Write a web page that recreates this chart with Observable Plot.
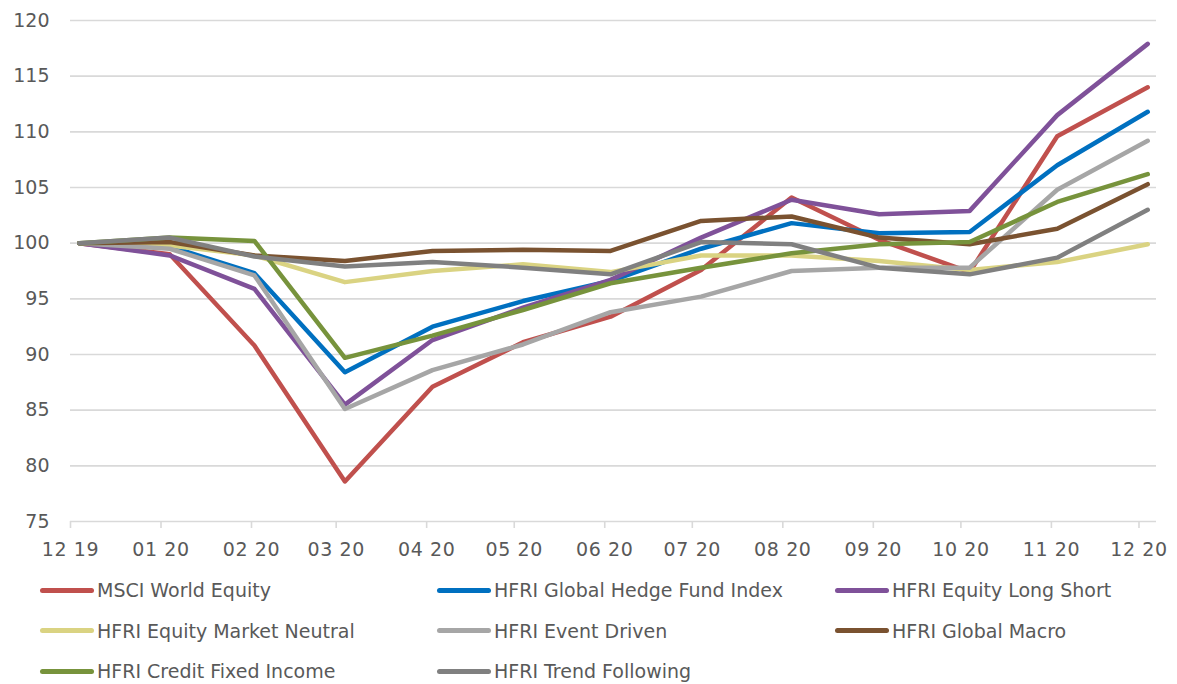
<!DOCTYPE html>
<html>
<head>
<meta charset="utf-8">
<script src="https://cdn.jsdelivr.net/npm/d3@7"></script>
<script src="https://cdn.jsdelivr.net/npm/@observablehq/plot@0.6"></script>
<style>
  html, body { margin: 0; padding: 0; background: #fff; }
  body { width: 1177px; height: 684px; overflow: hidden; font-family: "DejaVu Sans", Verdana, sans-serif; }
  #legend { position: relative; display: grid; grid-template-columns: 397px 398px 342px; padding-left: 40px; margin-top: 5px; }
  .item { height: 40.5px; display: flex; align-items: center; font-size: 19px; color: #595959; white-space: nowrap; }
  .sw { width: 54px; height: 5px; border-radius: 3px; margin-right: 3px; flex: none; }
</style>
</head>
<body>
<div id="chart"></div>
<div id="legend"></div>
<script>
const dates = ["2019-12-31","2020-01-31","2020-02-29","2020-03-31","2020-04-30","2020-05-31","2020-06-30","2020-07-31","2020-08-31","2020-09-30","2020-10-31","2020-11-30","2020-12-31"];

const seriesNames = [
  "MSCI World Equity",
  "HFRI Global Hedge Fund Index",
  "HFRI Equity Long Short",
  "HFRI Equity Market Neutral",
  "HFRI Event Driven",
  "HFRI Global Macro",
  "HFRI Credit Fixed Income",
  "HFRI Trend Following"
];
const seriesColors = ["#C0504D","#0070C0","#7F5199","#DAD382","#A6A6A6","#7A5230","#77933C","#808080"];

const msciWorld      = [100, 99.0, 90.8, 78.6, 87.1, 91.1, 93.4, 97.6, 104.1, 100.3, 97.4, 109.6, 114.0];
const globalHedge    = [100, 99.7, 97.3, 88.4, 92.5, 94.8, 96.6, 99.5, 101.8, 100.9, 101.0, 107.0, 111.8];
const equityLS       = [100, 98.9, 95.9, 85.5, 91.3, 94.2, 96.7, 100.5, 103.9, 102.6, 102.9, 111.5, 117.9];
const equityMN       = [100, 99.8, 98.9, 96.5, 97.5, 98.1, 97.4, 98.9, 98.9, 98.4, 97.6, 98.3, 99.9];
const eventDriven    = [100, 99.5, 97.1, 85.1, 88.6, 90.9, 93.8, 95.2, 97.5, 97.8, 97.8, 104.8, 109.2];
const globalMacro    = [100, 100.1, 98.9, 98.4, 99.3, 99.4, 99.3, 102.0, 102.4, 100.5, 99.9, 101.3, 105.3];
const creditFI       = [100, 100.5, 100.2, 89.7, 91.7, 94.0, 96.4, 97.8, 99.1, 99.9, 100.1, 103.7, 106.2];
const trendFollowing = [100, 100.5, 98.8, 97.9, 98.3, 97.8, 97.2, 100.1, 99.9, 97.8, 97.2, 98.7, 103.0];

const seriesValues = [msciWorld, globalHedge, equityLS, equityMN, eventDriven, globalMacro, creditFI, trendFollowing];

const tickDates = ["2019-12-28","2020-01-28","2020-02-28","2020-03-28","2020-04-28","2020-05-28","2020-06-28","2020-07-28","2020-08-28","2020-09-28","2020-10-28","2020-11-28","2020-12-28"];
const tickLabels = ["12 19","01 20","02 20","03 20","04 20","05 20","06 20","07 20","08 20","09 20","10 20","11 20","12 20"];
const yTicks = [75, 80, 85, 90, 95, 100, 105, 110, 115, 120];
const xDomain = ["2019-12-28", "2021-01-03"];

const rows = [];
seriesNames.forEach((name, s) => {
  seriesValues[s].forEach((v, i) => rows.push({series: name, date: new Date(dates[i]), value: v}));
});

const tickDateObjs = tickDates.map(d => new Date(d));
const labelByTime = new Map(tickDateObjs.map((d, i) => [+d, tickLabels[i]]));

const chart = Plot.plot({
  width: 1177,
  height: 565,
  marginLeft: 70,
  marginRight: 21,
  marginTop: 20,
  marginBottom: 44,
  style: {fontFamily: "DejaVu Sans, Verdana, sans-serif", fontSize: "19px", color: "#595959", background: "white"},
  x: {type: "utc", domain: xDomain.map(d => new Date(d))},
  y: {domain: [75, 120]},
  color: {domain: seriesNames, range: seriesColors},
  marks: [
    Plot.gridY(yTicks, {stroke: "#d9d9d9", strokeWidth: 1.6, strokeOpacity: 1}),
    Plot.axisY(yTicks, {tickSize: 0, tickPadding: 21, fontSize: 19, fill: "#595959", label: null}),
    Plot.axisX(tickDateObjs, {tickSize: 7, tickPadding: 14, stroke: "#d9d9d9", strokeWidth: 1.6, strokeOpacity: 1, fontSize: 19, fill: "#595959", label: null, tickFormat: d => labelByTime.get(+d)}),
    Plot.line(rows, {x: "date", y: "value", z: "series", stroke: "series", strokeWidth: 4.5, strokeLinejoin: "round", strokeLinecap: "round"})
  ]
});
chart.querySelectorAll("g[aria-label='x-axis tick label'] text").forEach(t => t.setAttribute("letter-spacing", "0.6"));
document.getElementById("chart").appendChild(chart);

const legend = document.getElementById("legend");
seriesNames.forEach((name, i) => {
  const item = document.createElement("div");
  item.className = "item";
  const sw = document.createElement("span");
  sw.className = "sw";
  sw.style.background = seriesColors[i];
  const tx = document.createElement("span");
  tx.textContent = name;
  item.appendChild(sw);
  item.appendChild(tx);
  legend.appendChild(item);
});
</script>
</body>
</html>
